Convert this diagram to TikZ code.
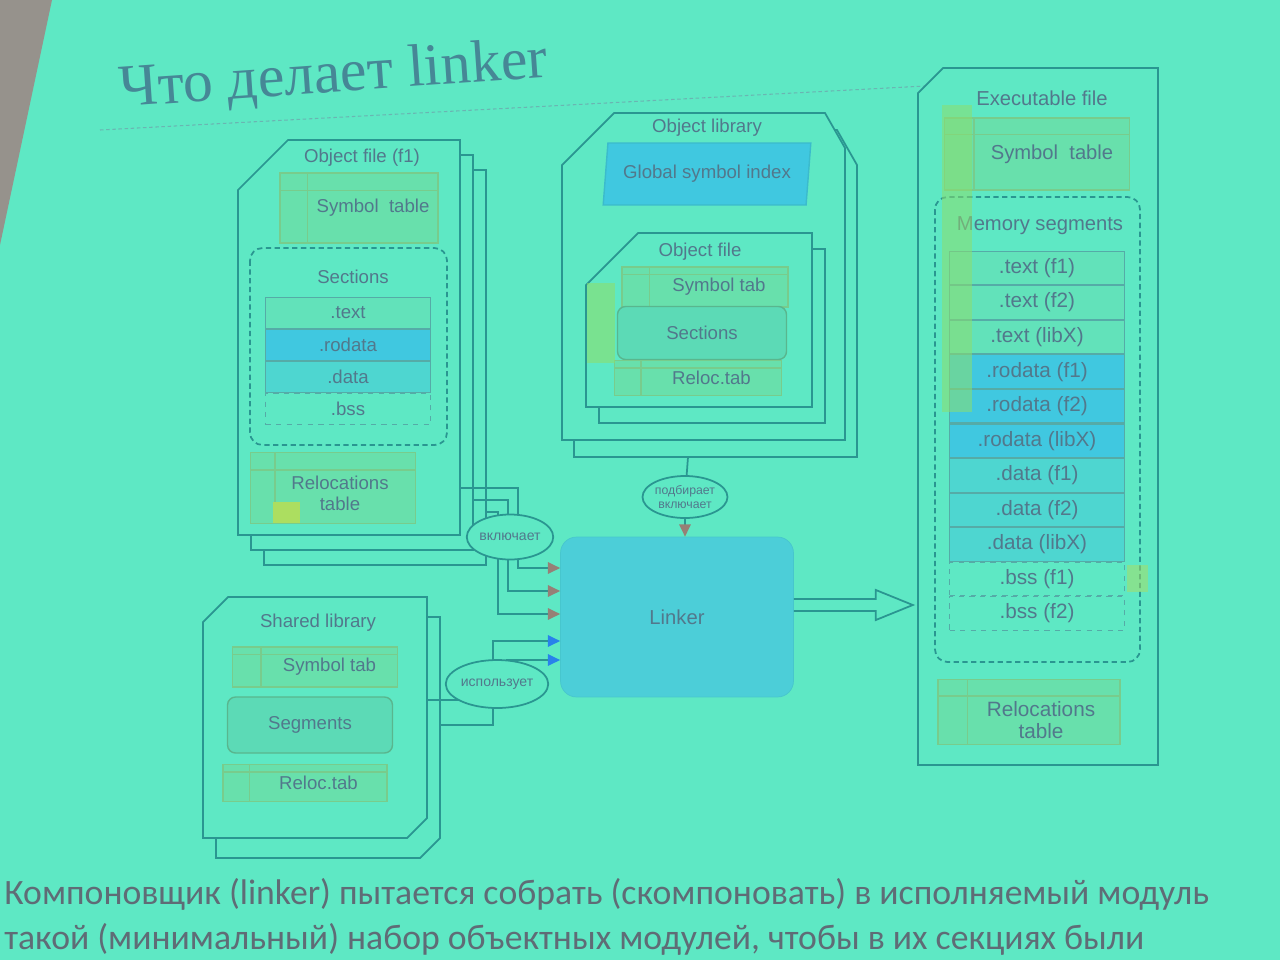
\documentclass[tikz,border=0pt]{standalone}
\usepackage{fontspec}
\setmainfont{Liberation Sans}
\newfontfamily\titlefont{Liberation Serif}
\newfontfamily\capfont{Carlito}
\usepackage{xcolor}
\usepackage{tikz}
\usetikzlibrary{shapes.geometric, arrows.meta, positioning, calc}

\definecolor{bgC}{RGB}{94,232,196}
\definecolor{wallC}{RGB}{150,146,140}
\definecolor{lineC}{RGB}{42,150,145}
\definecolor{txtC}{RGB}{82,120,140}
\definecolor{titleC}{RGB}{70,135,150}
\definecolor{noteC}{RGB}{95,108,118}
\definecolor{cyanF}{RGB}{64,200,224}
\definecolor{lnkF}{RGB}{76,206,216}
\definecolor{tabF}{RGB}{104,224,172}
\definecolor{tabD}{RGB}{120,204,140}
\definecolor{rowT}{RGB}{98,226,186}
\definecolor{rowD}{RGB}{78,214,208}
\definecolor{barG}{RGB}{140,222,110}
\definecolor{yelG}{RGB}{172,222,96}
\definecolor{tipB}{RGB}{150,128,118}
\definecolor{tipL}{RGB}{40,130,235}

\tikzset{
  doc/.style={draw=lineC, fill=bgC, line width=1pt, line join=miter},
  tbl/.style={rectangle, draw=tabD, fill=tabF, line width=0.8pt, inner sep=0pt,
              text=txtC, font=\fontsize{10.6}{12}\selectfont},
  tabline/.style={draw=tabD, line width=0.8pt},
  secrow/.style={rectangle, draw=lineC!80, line width=0.6pt, minimum width=3.3cm,
                 minimum height=0.62cm, inner sep=0pt, text=txtC,
                 font=\fontsize{10.6}{12}\selectfont},
  segrow/.style={secrow, minimum width=3.5cm, minimum height=0.67cm,
                 font=\fontsize{11.8}{13}\selectfont},
  secbox/.style={rectangle, rounded corners=0.16cm, draw=tabD!60!lineC,
                 fill=rowT!90!lineC, line width=0.8pt, inner sep=0pt, text=txtC,
                 font=\fontsize{10.6}{12}\selectfont},
  dashbox/.style={draw=lineC, line width=1pt, rounded corners=0.25cm,
                  dash pattern=on 3pt off 2pt},
  lbl/.style={text=txtC, font=\fontsize{10.6}{12}\selectfont, inner sep=1pt},
  conn/.style={draw=lineC, line width=1pt},
  tipF/.style={-{Triangle[length=7pt, width=6.5pt, color=tipB]}},
  tipL/.style={-{Triangle[length=7pt, width=6.5pt, color=tipL]}},
}

\newcommand{\tabgrid}[3]{%
  \draw[tabline] ([yshift=-#2]#1.north west) -- ([yshift=-#2]#1.north east);
  \draw[tabline] ([xshift=#3]#1.north west) -- ([xshift=#3]#1.south west);
}

\begin{document}
\begin{tikzpicture}[x=0.02cm, y=-0.02cm,
  ell/.style={ellipse, draw=lineC, fill=bgC, line width=1pt, inner sep=0pt,
              text=txtC, font=\fontsize{8}{8.5}\selectfont,
              minimum width=1.6cm, minimum height=0.9cm},
  gsi/.style={trapezium, trapezium left angle=77, trapezium right angle=103,
              trapezium stretches=true, fill=cyanF, draw=cyanF!75!lineC,
              line width=0.8pt, minimum width=4.2cm, minimum height=1.24cm,
              inner sep=0pt, text=txtC, font=\fontsize{10.6}{12}\selectfont},
  lnkbox/.style={rectangle, rounded corners=0.32cm, fill=lnkF, draw=lnkF!85!lineC,
                 minimum width=4.66cm, minimum height=3.2cm, text=txtC,
                 font=\fontsize{11.5}{13}\selectfont},
  titlerule/.style={draw=lineC!70, line width=0.6pt, dash pattern=on 2pt off 1.5pt},
  capt/.style={anchor=base west, inner sep=0pt, text=noteC,
               font=\capfont\fontsize{20.3}{22}\selectfont},
]

  % Backdrop
  \useasboundingbox (0,0) rectangle (1280,960);
  \clip (0,0) rectangle (1280,960);
  \fill[bgC] (0,0) rectangle (1280,960);
  \fill[wallC] (0,0) -- (52,0) -- (0,245) -- cycle;

  % Title
  \node[anchor=base west, inner sep=0pt, rotate=4, text=titleC,
        font=\titlefont\fontsize{34}{40}\selectfont] (title) at (120,107) {Что делает linker};
  \draw[titlerule] (100,130) -- (925,86);

  % Object file (f1), stacked copies
  \foreach \dx/\dy in {26/30,13/15,0/0}
    \filldraw[doc] (288+\dx,140+\dy) -- (460+\dx,140+\dy) -- (460+\dx,535+\dy)
      -- (238+\dx,535+\dy) -- (238+\dx,190+\dy) -- cycle;
  \node[lbl] (f1lbl) at (362,158) {Object file (f1)};
  \node[tbl, minimum width=3.16cm, minimum height=1.4cm] (f1sym) at (359,208) {\hspace{0.56cm}Symbol~ table};
  \tabgrid{f1sym}{0.36cm}{0.56cm}
  \draw[dashbox] (250,248) rectangle (447,445);
  \node[lbl] (f1sec) at (353,277) {Sections};
  \node[secrow, fill=rowT] (f1t) at (348,313) {.text};
  \node[secrow, fill=cyanF, below=0pt of f1t] (f1r) {.rodata};
  \node[secrow, fill=rowD, below=0pt of f1r] (f1d) {.data};
  \node[secrow, fill=bgC, dashed, below=0pt of f1d] (f1b) {.bss};
  \node[tbl, minimum width=3.3cm, minimum height=1.42cm] (f1rel) at (333,488) {};
  \tabgrid{f1rel}{0.36cm}{0.5cm}
  \node[lbl, align=center] (f1rlbl) at (340,493) {Relocations\\table};
  \fill[yelG] (273,502) rectangle (300,523);

  % Object library
  \foreach \dx/\dy in {12/17,0/0}
    \filldraw[doc] (614+\dx,113+\dy) -- (825+\dx,113+\dy) -- (845+\dx,148+\dy)
      -- (845+\dx,440+\dy) -- (562+\dx,440+\dy) -- (562+\dx,165+\dy) -- cycle;
  \node[lbl] (ollbl) at (707,128) {Object library};
  \node[gsi] (olgsi) at (707,174) {Global symbol index};
  \foreach \dx/\dy in {13/16,0/0}
    \filldraw[doc] (638+\dx,233+\dy) -- (812+\dx,233+\dy) -- (812+\dx,407+\dy)
      -- (586+\dx,407+\dy) -- (586+\dx,285+\dy) -- cycle;
  \node[lbl] (oflbl) at (700,252) {Object file};
  \node[tbl, minimum width=3.32cm, minimum height=0.8cm] (ofsym) at (705,287) {\hspace{0.56cm}Symbol tab};
  \tabgrid{ofsym}{0.16cm}{0.56cm}
  \node[secbox, minimum width=3.38cm, minimum height=1.06cm] (ofsec) at (702,333) {Sections};
  \node[tbl, minimum width=3.34cm, minimum height=0.7cm] (ofrel) at (698,378) {\hspace{0.54cm}Reloc.tab};
  \tabgrid{ofrel}{0.16cm}{0.54cm}
  \fill[barG, opacity=0.6] (587,283) rectangle (615,363);

  % Shared library
  \foreach \dx/\dy in {13/20,0/0}
    \filldraw[doc] (228+\dx,597+\dy) -- (427+\dx,597+\dy) -- (427+\dx,818+\dy)
      -- (407+\dx,838+\dy) -- (203+\dx,838+\dy) -- (203+\dx,622+\dy) -- cycle;
  \node[lbl] (sllbl) at (318,623) {Shared library};
  \node[tbl, minimum width=3.3cm, minimum height=0.8cm] (slsym) at (315,667) {\hspace{0.58cm}Symbol tab};
  \tabgrid{slsym}{0.16cm}{0.58cm}
  \node[secbox, minimum width=3.3cm, minimum height=1.12cm] (slseg) at (310,725) {Segments};
  \node[tbl, minimum width=3.28cm, minimum height=0.74cm] (slrel) at (305,783) {\hspace{0.54cm}Reloc.tab};
  \tabgrid{slrel}{0.16cm}{0.54cm}

  % Executable file
  \filldraw[doc] (943,68) -- (1158,68) -- (1158,765) -- (918,765) -- (918,93) -- cycle;
  \node[lbl, font=\fontsize{11.5}{13}\selectfont] (exlbl) at (1042,98) {Executable file};
  \node[tbl, minimum width=3.7cm, minimum height=1.44cm, font=\fontsize{11.5}{13}\selectfont] (exsym) at (1037,154) {\hspace{0.6cm}Symbol~ table};
  \tabgrid{exsym}{0.34cm}{0.6cm}
  \draw[dashbox] (935,197) rectangle (1140,662);
  \node[lbl, font=\fontsize{11.5}{13}\selectfont] (exseg) at (1040,226) {Memory segments};
  \node[segrow, fill=rowT] (ex1) at (1037,268) {.text (f1)};
  \node[segrow, fill=rowT, below=0pt of ex1] (ex2) {.text (f2)};
  \node[segrow, fill=rowT, below=0pt of ex2] (ex3) {.text (libX)};
  \node[segrow, fill=cyanF, below=0pt of ex3] (ex4) {.rodata (f1)};
  \node[segrow, fill=cyanF, below=0pt of ex4] (ex5) {.rodata (f2)};
  \node[segrow, fill=cyanF, below=0pt of ex5] (ex6) {.rodata (libX)};
  \node[segrow, fill=rowD, below=0pt of ex6] (ex7) {.data (f1)};
  \node[segrow, fill=rowD, below=0pt of ex7] (ex8) {.data (f2)};
  \node[segrow, fill=rowD, below=0pt of ex8] (ex9) {.data (libX)};
  \node[segrow, fill=bgC, dashed, below=0pt of ex9] (ex10) {.bss (f1)};
  \node[segrow, fill=bgC, dashed, below=0pt of ex10] (ex11) {.bss (f2)};
  \fill[barG, opacity=0.55] (942,105) rectangle (972,412);
  \fill[yelG, opacity=0.5] (1127,565) rectangle (1148,592);
  \node[tbl, minimum width=3.64cm, minimum height=1.3cm] (exrel) at (1029,712) {};
  \tabgrid{exrel}{0.34cm}{0.6cm}
  \node[lbl, align=center, font=\fontsize{11.8}{13}\selectfont] (exrlbl) at (1041,720) {Relocations\\table};

  % Linker
  \node[lnkbox] (lnk) at (677,617) {Linker};

  % Connector ends
  \coordinate (f1a) at (460,488);
  \coordinate (f1b) at (473,500);
  \coordinate (f1c) at (486,512);
  \coordinate (sla) at (427,700);
  \coordinate (slb) at (440,725);
  \coordinate (olb) at (688,457);
  \coordinate (inclc) at (510,537);
  \coordinate (pickc) at (685,497);
  \coordinate (usesc) at (497,684);

  % Edges into the linker
  \draw[conn, tipF] (f1a) -| (518,568) -- (lnk.west |- 0,568);
  \draw[conn, tipF] (f1b) -| (508,591) -- (lnk.west |- 0,591);
  \draw[conn, tipF] (f1c) -| (498,614) -- (lnk.west |- 0,614);
  \draw[conn, tipL] (sla) -| (507,660) -- (lnk.west |- 0,660);
  \draw[conn, tipL] (slb) -| (493,641) -- (lnk.west |- 0,641);
  \draw[conn] (olb) -- (pickc);
  \draw[conn, tipF] (pickc) -- (pickc |- lnk.north);

  % Relation labels
  \node[ell] (incl) at (inclc) {включает};
  \node[ell, minimum width=1.7cm, minimum height=0.84cm, align=center,
        font=\fontsize{7}{7.5}\selectfont] (pick) at (pickc) {подбирает\\включает};
  \node[ell, minimum height=0.96cm] (uses) at (usesc) {использует};

  % Output arrow
  \coordinate (outb) at ($(lnk.east)+(0,-12)$);
  \draw[conn, line join=miter] ($(outb)+(0,-6)$) -- ++(82,0) -- ++(0,-9) -- ++(37,15)
    -- ++(-37,15) -- ++(0,-9) -- ++(-82,0);

  % Caption
  \node[capt] (cap1) at (4,904) {Компоновщик (linker) пытается собрать (скомпоновать) в исполняемый модуль};
  \node[capt] (cap2) at (4,949) {такой (минимальный) набор объектных модулей, чтобы в их секциях были};

\end{tikzpicture}
\end{document}
